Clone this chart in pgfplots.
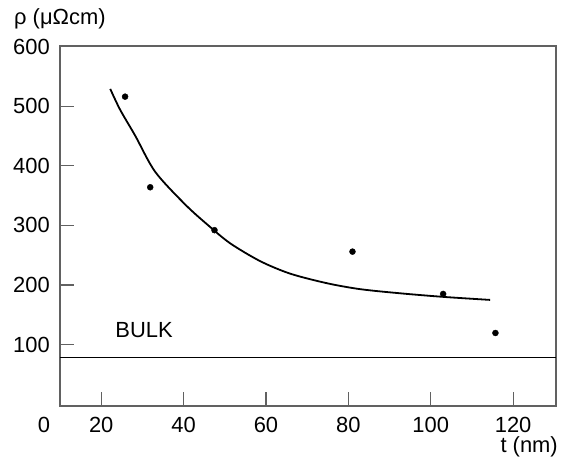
\documentclass[border=0pt]{standalone}
\usepackage{pgfplots}
\pgfplotsset{compat=1.18}
\usepackage{fontspec}
\setmainfont{Liberation Sans}
\definecolor{framegray}{gray}{0.38}
\begin{document}
\fontsize{22}{26}\selectfont
\begin{tikzpicture}
\begin{axis}[
  scale only axis, width=496bp, height=360bp,
  xmin=10, xmax=130.4, ymin=-3, ymax=601,
  axis line style={framegray, line width=1.2bp},
  tick style={framegray, line width=1.2bp},
  tick align=inside, tick pos=left,
  major tick length=14bp,
  xtick={20,40,...,120}, ytick={100,200,...,600},
  /pgf/number format/assume math mode=true,
  /pgf/number format/set thousands separator={},
  tick label style={font=\fontsize{22}{26}\selectfont, inner sep=0pt},
  xticklabel style={anchor=north, yshift=-10.5bp},
  yticklabel style={anchor=east, xshift=-10bp},
  clip=false,
]
\addplot[black, line width=1.3bp] coordinates {(10,78) (130.4,78)};
\addplot[black, line width=1.8bp, smooth, tension=0.5] coordinates {
 (22.2,529) (24.6,494) (28.3,450) (33.1,390) (40.4,335) (46,300)
 (51.3,270) (58.6,240) (65.9,219) (74.8,203) (82.9,193) (92.7,186) (103.2,180) (114.4,175)};
\addplot[only marks, mark=*, mark size=3bp, black] coordinates {
 (25.8,516) (31.9,364) (47.5,292) (81.0,256) (103.0,185) (115.7,119.5)};
\node[anchor=base west, inner sep=0pt] at (axis cs:23.4,112) {BULK};
\end{axis}
\node[anchor=base west, inner sep=0pt] at ([shift={(-46bp,21bp)}]current axis.north west) {ρ (μΩcm)};
\node[anchor=base east, inner sep=0pt] at ([shift={(2bp,-46bp)}]current axis.south east) {t (nm)};
\node[anchor=north, inner sep=0pt] at ([shift={(-16bp,-10.5bp)}]current axis.south west) {0};
\pgfresetboundingbox
\path ([shift={(-60bp,-53bp)}]current axis.south west) rectangle ([shift={(14bp,46bp)}]current axis.north east);
\end{tikzpicture}
\end{document}
